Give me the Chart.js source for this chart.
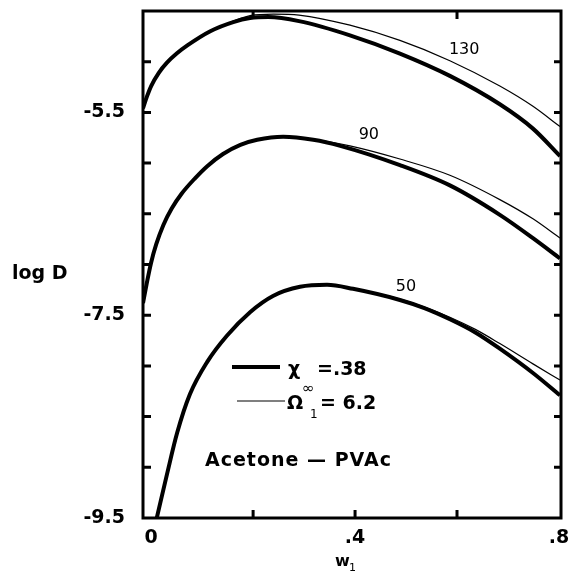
<!DOCTYPE html>
<html>
<head>
<meta charset="utf-8">
<script src="https://cdn.jsdelivr.net/npm/chart.js@4/dist/chart.umd.min.js"></script>
<style>
  body { margin: 0; background: #fff; }
  canvas { display: block; }
</style>
</head>
<body>
<canvas id="chart" width="569" height="575"></canvas>
<script>
// log D against w1 for acetone in PVAc at three temperatures.
// heavy line: chi = .38, light line: Omega1 = 6.2

const w130 = [-0.016, -0.008, 0.0, 0.015, 0.031, 0.05, 0.071, 0.116, 0.161, 0.194, 0.23, 0.29, 0.39, 0.488, 0.586, 0.684, 0.749, 0.802];
const chi130 = [-5.46, -5.34, -5.24, -5.11, -5.01, -4.92, -4.84, -4.70, -4.61, -4.57, -4.56, -4.60, -4.74, -4.92, -5.14, -5.42, -5.66, -5.93];
const w130b = [0.12, 0.161, 0.194, 0.24, 0.29, 0.39, 0.488, 0.586, 0.684, 0.749, 0.802];
const omega130 = [-4.69, -4.60, -4.545, -4.53, -4.54, -4.64, -4.79, -4.99, -5.24, -5.44, -5.64];

const w90 = [-0.016, -0.008, 0.0, 0.01, 0.024, 0.04, 0.06, 0.086, 0.11, 0.141, 0.175, 0.208, 0.259, 0.318, 0.371, 0.488, 0.586, 0.684, 0.749, 0.802];
const chi90 = [-7.38, -7.17, -6.98, -6.80, -6.61, -6.45, -6.30, -6.15, -6.03, -5.91, -5.82, -5.77, -5.74, -5.77, -5.83, -6.02, -6.22, -6.51, -6.74, -6.94];
const w90b = [0.2, 0.259, 0.318, 0.39, 0.488, 0.586, 0.684, 0.749, 0.802];
const omega90 = [-5.78, -5.735, -5.765, -5.83, -5.96, -6.12, -6.36, -6.55, -6.74];

const w50 = [0.011, 0.031, 0.051, 0.076, 0.11, 0.149, 0.194, 0.239, 0.292, 0.345, 0.396, 0.488, 0.536, 0.586, 0.636, 0.684, 0.749, 0.802];
const chi50 = [-9.50, -9.07, -8.66, -8.28, -7.96, -7.70, -7.47, -7.31, -7.22, -7.20, -7.24, -7.35, -7.43, -7.54, -7.67, -7.83, -8.07, -8.29];
const w50b = [0.3, 0.345, 0.396, 0.488, 0.536, 0.586, 0.636, 0.684, 0.749, 0.802];
const omega50 = [-7.21, -7.195, -7.235, -7.34, -7.42, -7.52, -7.64, -7.78, -7.98, -8.14];

const temps = ["130", "90", "50"];
const tempLabelAt = [[0.614, -4.879], [0.427, -5.717], [0.5, -7.216]];

const xTickValues = [0, 0.4, 0.8];
const xTickLabels = ["0", ".4", ".8"];
const xMinorTicks = [0.2, 0.4, 0.6];
const xTopTicks = [0.2, 0.6];
const yTickValues = [-9.5, -7.5, -5.5];
const yTickLabels = ["-9.5", "-7.5", "-5.5"];
const yMinorTicks = [-9, -8.5, -8, -7.5, -7, -6.5, -6, -5.5, -5];

const pts = (xs, ys) => xs.map((x, i) => ({ x: x, y: ys[i] }));

const heavy = { borderColor: "#000", borderWidth: 4, cubicInterpolationMode: "monotone", pointRadius: 0, fill: false };
const light = { borderColor: "#000", borderWidth: 1.2, cubicInterpolationMode: "monotone", pointRadius: 0, fill: false };

const boldFont = "bold 19px 'DejaVu Sans'";

// keep tick labels from pushing the plot area around
const noLabelPadding = s => {
  s.paddingLeft = 0; s.paddingRight = 0; s.paddingTop = 0; s.paddingBottom = 0;
};

const frame = {
  id: "frame",
  afterDatasetsDraw(chart) {
    const { ctx, chartArea: a, scales: { x, y } } = chart;
    ctx.save();
    ctx.strokeStyle = "#000";
    ctx.lineWidth = 3;
    ctx.strokeRect(a.left, a.top, a.right - a.left, a.bottom - a.top);
    ctx.beginPath();
    yMinorTicks.forEach(v => {
      const py = y.getPixelForValue(v);
      ctx.moveTo(a.left, py); ctx.lineTo(a.left + 8, py);
      ctx.moveTo(a.right, py); ctx.lineTo(a.right - 7, py);
    });
    xMinorTicks.forEach(v => {
      const px = x.getPixelForValue(v);
      ctx.moveTo(px, a.bottom); ctx.lineTo(px, a.bottom - 8);
    });
    xTopTicks.forEach(v => {
      const px = x.getPixelForValue(v);
      ctx.moveTo(px, a.top); ctx.lineTo(px, a.top + 8);
    });
    ctx.stroke();
    ctx.restore();
  },
  afterDraw(chart) {
    const { ctx, scales: { x, y } } = chart;
    ctx.save();
    ctx.fillStyle = "#000";
    ctx.strokeStyle = "#000";

    // temperature tags on the curves
    ctx.font = "16px 'DejaVu Sans'";
    ctx.textAlign = "center";
    ctx.textBaseline = "middle";
    temps.forEach((t, i) => {
      ctx.fillText(t, x.getPixelForValue(tempLabelAt[i][0]), y.getPixelForValue(tempLabelAt[i][1]));
    });

    // axis titles
    ctx.textAlign = "left";
    ctx.textBaseline = "alphabetic";
    ctx.font = boldFont;
    ctx.fillText("log D", 12, 279);
    ctx.font = "bold 16px 'DejaVu Sans'";
    ctx.fillText("w", 335, 566);
    ctx.font = "11px 'DejaVu Sans'";
    ctx.fillText("1", 349, 571);

    // key
    ctx.lineWidth = 4;
    ctx.beginPath(); ctx.moveTo(232, 367); ctx.lineTo(280, 367); ctx.stroke();
    ctx.lineWidth = 1.2;
    ctx.beginPath(); ctx.moveTo(237, 401); ctx.lineTo(285, 401); ctx.stroke();
    ctx.font = boldFont;
    ctx.fillText("\u03c7", 288, 375);
    ctx.fillText("=.38", 317, 375);
    ctx.fillText("\u03a9", 287, 409);
    ctx.fillText("= 6.2", 320, 409);
    ctx.font = "15px 'DejaVu Sans'";
    ctx.fillText("\u221e", 302, 393);
    ctx.font = "12px 'DejaVu Sans'";
    ctx.fillText("1", 310, 418);

    ctx.font = boldFont;
    ctx.letterSpacing = "1px";
    ctx.fillText("Acetone \u2014 PVAc", 205, 466);
    ctx.restore();
  }
};

new Chart(document.getElementById("chart").getContext("2d"), {
  type: "line",
  data: {
    datasets: [
      { ...heavy, data: pts(w130, chi130) },
      { ...light, data: pts(w130b, omega130) },
      { ...heavy, data: pts(w90, chi90) },
      { ...light, data: pts(w90b, omega90) },
      { ...heavy, data: pts(w50, chi50) },
      { ...light, data: pts(w50b, omega50) },
    ],
  },
  options: {
    responsive: false,
    animation: false,
    layout: { padding: { top: 11, right: 8, left: 0, bottom: 0 } },
    plugins: { legend: { display: false }, tooltip: { enabled: false } },
    scales: {
      x: {
        type: "linear",
        min: -0.016,
        max: 0.804,
        grid: { display: false, drawTicks: false },
        border: { display: false },
        afterBuildTicks: s => { s.ticks = xTickValues.map(v => ({ value: v })); },
        afterFit: s => { s.height = 57; noLabelPadding(s); },
        ticks: {
          autoSkip: false,
          maxRotation: 0,
          padding: 9,
          color: "#000",
          font: { family: "DejaVu Sans", weight: "bold", size: 19 },
          callback: (v, i) => xTickLabels[i],
        },
      },
      y: {
        min: -9.5,
        max: -4.5,
        grid: { display: false, drawTicks: false },
        border: { display: false },
        afterBuildTicks: s => { s.ticks = yTickValues.map(v => ({ value: v })); },
        afterFit: s => { s.width = 143; noLabelPadding(s); },
        ticks: {
          autoSkip: false,
          padding: 18,
          color: "#000",
          font: { family: "DejaVu Sans", weight: "bold", size: 19 },
          callback: (v, i) => yTickLabels[i],
        },
      },
    },
  },
  plugins: [frame],
});
</script>
</body>
</html>
